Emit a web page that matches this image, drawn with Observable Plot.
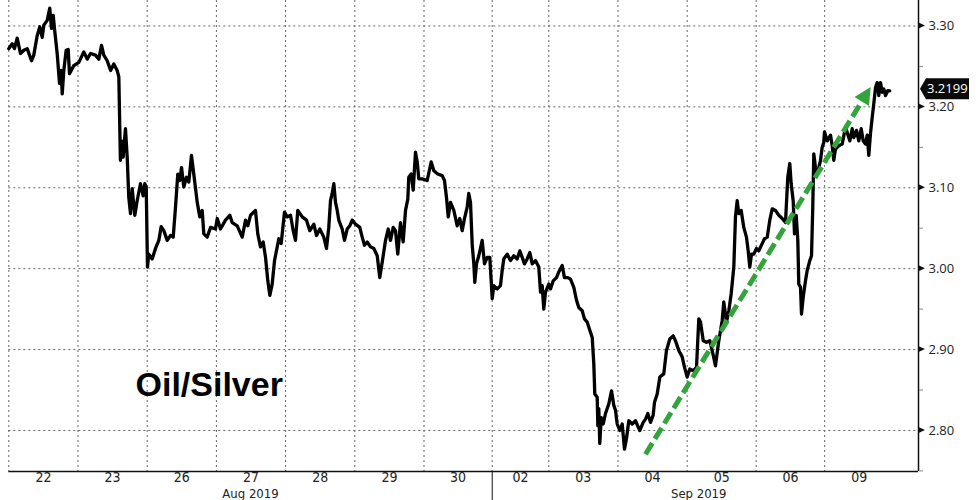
<!DOCTYPE html>
<html><head><meta charset="utf-8">
<script src="https://cdn.jsdelivr.net/npm/d3@7"></script>
<script src="https://cdn.jsdelivr.net/npm/@observablehq/plot@0.6"></script>
<style>
html,body{margin:0;padding:0;background:#fff;overflow:hidden}
</style></head><body><div id="chart"></div>
<script>
// trading-session index (days since Aug 22 open) and Oil/Silver ratio
const times = [
0,0.049,0.082,0.121,0.169,0.217,0.266,0.328,0.361,0.410,
0.448,0.483,0.506,0.555,0.592,0.617,0.642,0.660,0.699,0.733,
0.757,0.772,0.795,0.829,0.858,0.877,0.939,1.012,1.084,1.133,
1.181,1.253,1.301,1.340,1.373,1.422,1.471,1.517,1.566,1.590,
1.613,1.629,1.653,1.686,1.711,1.734,1.759,1.783,1.821,1.855,
1.903,1.942,1.965,1.986,2.004,2.023,2.072,2.120,2.168,2.202,
2.240,2.289,2.337,2.376,2.409,2.442,2.471,2.496,2.529,2.568,
2.601,2.640,2.673,2.723,2.760,2.795,2.818,2.867,2.915,2.987,
3.012,3.059,3.131,3.194,3.228,3.301,3.373,3.421,3.454,3.493,
3.565,3.598,3.637,3.676,3.710,3.743,3.772,3.806,3.840,3.902,
3.936,3.984,4.023,4.071,4.110,4.143,4.176,4.240,4.302,4.350,
4.408,4.447,4.494,4.552,4.591,4.624,4.649,4.673,4.697,4.721,
4.746,4.769,4.818,4.851,4.890,4.928,4.962,5.010,5.072,5.107,
5.140,5.179,5.227,5.275,5.324,5.361,5.396,5.444,5.483,5.516,
5.555,5.588,5.621,5.660,5.699,5.733,5.766,5.780,5.815,5.844,
5.877,5.902,5.925,5.974,6.046,6.104,6.142,6.199,6.263,6.296,
6.325,6.350,6.383,6.431,6.480,6.517,6.552,6.585,6.624,6.647,
6.672,6.697,6.720,6.734,6.759,6.792,6.841,6.874,6.913,6.951,
6.986,7.009,7.058,7.105,7.130,7.153,7.202,7.250,7.298,7.347,
7.384,7.419,7.452,7.491,7.529,7.564,7.611,7.659,7.684,7.708,
7.731,7.756,7.803,7.828,7.867,7.915,7.948,7.997,8.030,8.078,
8.117,8.165,8.204,8.237,8.286,8.319,8.358,8.396,8.431,8.454,
8.468,8.503,8.512,8.526,8.540,8.561,8.590,8.623,8.671,8.710,
8.743,8.767,8.792,8.829,8.864,8.897,8.926,8.960,9.009,9.056,
9.118,9.168,9.201,9.234,9.273,9.312,9.331,9.370,9.408,9.465,
9.504,9.552,9.601,9.634,9.682,9.731,9.765,9.803,9.841,9.890,
9.938,9.971,9.996,10.035,10.082,10.130,10.179,10.212,10.260,10.309,
10.332,10.371,10.405,10.439,10.477,10.501,10.526,10.549,10.584,10.621,
10.660,10.685,10.708,10.733,10.766,10.805,10.838,10.887,10.920,10.960,
10.997,11.032,11.079,11.127,11.176,11.224,11.257,11.286,11.306,11.335,
11.354,11.379,11.402,11.416,11.441,11.455,11.480,11.513,11.538,11.575,
11.600,11.618,11.633,11.657,11.682,11.705,11.730,11.754,11.777,11.788,
11.827,11.875,11.899,11.922,11.946,11.994,12.043,12.091,12.114,12.153,
12.188,12.211,12.250,12.283,12.318,12.347,12.380,12.405,12.428,12.452,
12.477,12.500,12.525,12.549,12.572,12.597,12.621,12.645,12.669,12.702,
12.731];
const ratio = [
3.272,3.278,3.272,3.285,3.266,3.270,3.272,3.257,3.264,3.288,
3.299,3.286,3.301,3.307,3.322,3.297,3.313,3.297,3.266,3.229,
3.245,3.216,3.245,3.270,3.271,3.241,3.251,3.255,3.268,3.259,
3.266,3.264,3.259,3.276,3.264,3.257,3.245,3.253,3.245,3.237,
3.134,3.158,3.138,3.173,3.138,3.088,3.068,3.099,3.066,3.084,
3.105,3.090,3.105,3.101,3.002,3.018,3.012,3.025,3.035,3.052,
3.047,3.035,3.041,3.039,3.076,3.117,3.109,3.125,3.101,3.113,
3.107,3.140,3.117,3.082,3.064,3.072,3.043,3.039,3.051,3.049,
3.062,3.049,3.060,3.066,3.057,3.053,3.039,3.060,3.053,3.066,
3.072,3.043,3.027,3.033,3.014,2.985,2.967,2.981,3.010,3.037,
3.031,3.070,3.064,3.066,3.047,3.035,3.072,3.064,3.060,3.047,
3.055,3.041,3.049,3.039,3.025,3.051,3.084,3.093,3.105,3.082,
3.072,3.060,3.049,3.035,3.049,3.053,3.060,3.055,3.051,3.039,
3.029,3.033,3.027,3.025,3.016,2.989,3.008,3.035,3.049,3.035,
3.051,3.047,3.018,3.057,3.033,3.072,3.086,3.113,3.117,3.097,
3.144,3.132,3.111,3.111,3.109,3.132,3.121,3.117,3.115,3.109,
3.088,3.064,3.082,3.072,3.053,3.062,3.047,3.062,3.076,3.093,
3.082,3.029,3.006,2.983,3.006,3.016,3.035,3.006,3.014,3.014,
2.963,2.979,2.975,2.979,2.998,3.012,3.018,3.010,3.016,3.012,
3.022,3.014,3.006,3.012,3.020,3.006,3.010,3.002,2.971,2.979,
2.950,2.971,2.981,2.975,2.985,2.989,2.996,3.004,2.989,2.989,
2.987,2.977,2.961,2.952,2.948,2.938,2.934,2.924,2.915,2.882,
2.845,2.841,2.806,2.827,2.784,2.816,2.808,2.821,2.833,2.849,
2.831,2.825,2.808,2.800,2.808,2.777,2.790,2.812,2.808,2.812,
2.800,2.810,2.814,2.821,2.810,2.819,2.835,2.845,2.866,2.870,
2.899,2.913,2.917,2.911,2.899,2.891,2.878,2.866,2.876,2.874,
2.878,2.938,2.934,2.911,2.909,2.911,2.893,2.880,2.911,2.936,
2.959,2.934,2.948,2.969,3.002,3.064,3.084,3.068,3.072,3.051,
3.039,3.022,3.002,3.018,3.018,3.025,3.022,3.031,3.037,3.039,
3.060,3.074,3.072,3.066,3.062,3.057,3.113,3.130,3.105,3.084,
3.043,3.066,3.035,2.981,2.977,2.944,2.965,2.985,2.998,3.010,
3.016,3.076,3.142,3.125,3.117,3.125,3.134,3.150,3.156,3.169,
3.158,3.165,3.152,3.134,3.148,3.152,3.154,3.175,3.169,3.158,
3.173,3.162,3.171,3.158,3.173,3.158,3.154,3.165,3.140,3.167,
3.187,3.204,3.224,3.230,3.214,3.230,3.218,3.222,3.214,3.220,
3.2199];

const dayLabels = ["22","23","26","27","28","29","30","02","03","04","05","06","09"];
const dayStarts = [0,1,2,3,4,5,6,6.986,7.803,8.803,9.803,10.80,11.79];
const dayEnd = 12.79;
const monthLabels = ["Aug 2019","Sep 2019"];
const monthCenters = [3.493, 9.97];
const yTicks = [2.8,2.9,3.0,3.1,3.2,3.3];
const yMinor = [2.75,2.85,2.95,3.05,3.15,3.25];
const lastValue = 3.2199;
const trendFrom = [9.208, 2.770];
const trendTo = [12.462, 3.224];
const title = "Oil/Silver";
const titlePos = [1.831, 2.856];

const xMax = 13.146;
const yDomain = [2.7493, 3.3315];
const dayCenters = dayStarts.map((s, i) => (s + (i + 1 < dayStarts.length ? dayStarts[i + 1] : dayEnd)) / 2);
const green = "#33a33b";

const decorations = (index, {x, y}, values, dim) => {
  const g = d3.create("svg:g");
  const ax = dim.width - dim.marginRight;
  for (const v of yTicks) {
    const yy = y(v);
    g.append("path").attr("d", `M${ax},${yy - 3.2}L${ax + 7},${yy}L${ax},${yy + 3.2}Z`).attr("fill", "#111");
  }
  // last value tag
  const ly = y(lastValue);
  g.append("path")
    .attr("d", `M${ax + 2},${ly - 1.5}L${ax + 8},${ly - 12}H${ax + 51}V${ly + 9}H${ax + 8}Z`)
    .attr("fill", "#0a0a0a");
  g.append("text").attr("x", ax + 9).attr("y", ly - 1.5).attr("dy", "0.36em")
    .attr("text-anchor", "start")
    .attr("fill", "#fff").attr("font-size", 13).attr("font-family", "'Open Sans', sans-serif")
    .text(lastValue.toFixed(4));
  // trend arrow
  const x1 = x(trendFrom[0]), y1 = y(trendFrom[1]), x2 = x(trendTo[0]), y2 = y(trendTo[1]);
  const dx = x2 - x1, dy = y2 - y1, L = Math.hypot(dx, dy), ux = dx / L, uy = dy / L;
  const head = 17, hw = 8.5;
  const bx = x2 - ux * head, by = y2 - uy * head;
  g.append("line").attr("x1", x1).attr("y1", y1).attr("x2", bx + ux * 2).attr("y2", by + uy * 2)
    .attr("stroke", green).attr("stroke-width", 5).attr("stroke-dasharray", "13,5");
  g.append("path")
    .attr("d", `M${x2},${y2}L${bx - uy * hw},${by + ux * hw}L${bx + uy * hw},${by - ux * hw}Z`)
    .attr("fill", green);
  return g.node();
};

const chart = Plot.plot({
  width: 976, height: 500,
  marginTop: 0, marginBottom: 29, marginLeft: 8.3, marginRight: 58,
  x: {domain: [0, xMax], axis: null},
  y: {domain: yDomain},
  style: {background: "#fff", fontFamily: "'Open Sans', sans-serif", fontSize: "13px", color: "#222", overflow: "visible"},
  marks: [
    Plot.ruleY(yTicks, {stroke: "#666", strokeDasharray: "2,3", strokeWidth: 1}),
    Plot.ruleX(dayStarts, {stroke: "#666", strokeDasharray: "2,3", strokeWidth: 1}),
    Plot.ruleX([dayStarts[7]], {stroke: "#111", insetTop: 471, insetBottom: -29}),
    Plot.ruleY([yDomain[0]], {stroke: "#111", strokeWidth: 1.5}),
    Plot.ruleX([xMax], {stroke: "#111", strokeWidth: 1.5}),
    Plot.axisY(yMinor, {anchor: "right", tickSize: 4, tickFormat: () => "", stroke: "#888"}),
    Plot.axisY(yTicks, {anchor: "right", tickSize: 0, tickPadding: 10, tickFormat: d3.format(".2f"), fontSize: 13, fill: "#222"}),
    Plot.line(ratio, {x: times, y: ratio, stroke: "#000", strokeWidth: 3.3, strokeLinejoin: "round"}),
    Plot.text(dayLabels, {x: dayCenters, frameAnchor: "bottom", dy: 10, fontSize: 14, fill: "#222",
      fontFamily: "'Liberation Sans Narrow','DejaVu Sans Condensed',sans-serif"}),
    Plot.text(monthLabels, {x: monthCenters, frameAnchor: "bottom", dy: 26.5, fontSize: 13, fill: "#222",
      fontFamily: "'Liberation Sans Narrow','DejaVu Sans Condensed',sans-serif"}),
    Plot.text([title], {x: [titlePos[0]], y: [titlePos[1]], textAnchor: "start", fontSize: 34, fontWeight: "bold",
      fontFamily: "'Liberation Sans', Arial, sans-serif", fill: "#000"}),
    decorations
  ]
});
document.getElementById("chart").appendChild(chart);
</script></body></html>
